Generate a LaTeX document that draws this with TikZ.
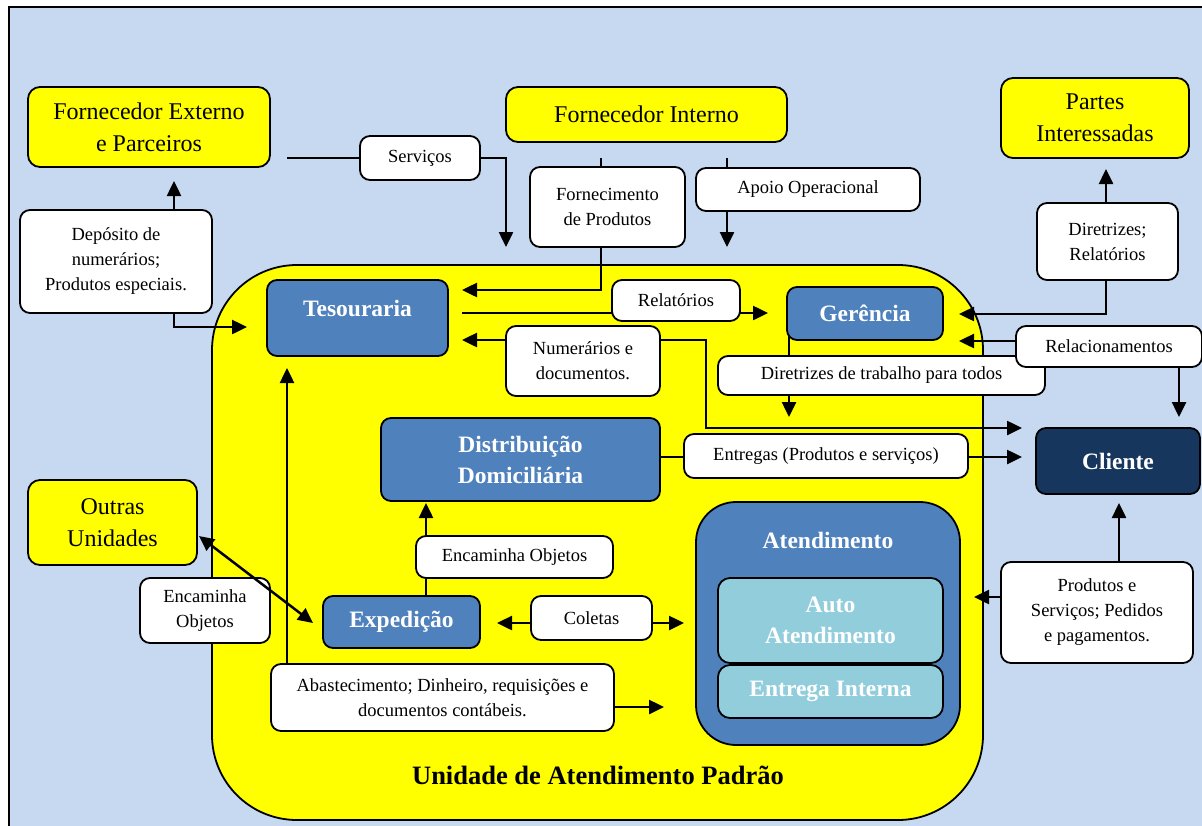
\documentclass[tikz,border=0pt]{standalone}
\usepackage{fontspec}
\setmainfont{Liberation Serif}
\usetikzlibrary{arrows.meta,calc}
\definecolor{bgblue}{HTML}{C6D9F1}
\definecolor{uyellow}{HTML}{FFFF00}
\definecolor{mblue}{HTML}{4F81BD}
\definecolor{lcyan}{HTML}{92CDDC}
\definecolor{navy}{HTML}{17365D}
\pgfdeclarelayer{back}
\pgfdeclarelayer{mid}
\pgfsetlayers{back,mid,main}
\begin{document}
\begin{tikzpicture}[x=1pt,y=-1pt,
  every node/.style={inner sep=0pt, outer sep=0pt},
  ybox/.style={draw, line width=1.8pt, fill=uyellow, rounded corners=12pt, align=center, font=\fontsize{24}{32}\selectfont},
  bbox/.style={draw, line width=1.8pt, fill=mblue, rounded corners=10pt, align=center, text=white, font=\bfseries\fontsize{23.5}{31}\selectfont},
  cbox/.style={draw, line width=1.8pt, fill=lcyan, rounded corners=12pt, align=center, text=white, font=\bfseries\fontsize{23.5}{31}\selectfont},
  lbl/.style={draw, line width=1.8pt, fill=white, rounded corners=10pt, align=center, font=\fontsize{18.5}{25}\selectfont},
  ln/.style={line width=2.5pt},
  arr/.style={line width=2.5pt, -{Triangle[length=15pt,width=14pt]}},
  dar/.style={line width=2.5pt, {Triangle[length=15pt,width=14pt]}-{Triangle[length=15pt,width=14pt]}},
]
\useasboundingbox (0,0) rectangle (1202,825);
\begin{pgfonlayer}{back}
  \draw[line width=2pt, fill=bgblue] (9,7) rectangle (1220,840);
  \node[draw, line width=1.8pt, fill=uyellow, rounded corners=85pt, minimum width=771pt, minimum height=555pt] (unid) at (597.5,542.5) {};
\end{pgfonlayer}

% yellow external boxes
\node[ybox, minimum width=242pt, minimum height=80pt] (fext) at (149,127) {Fornecedor Externo\\e Parceiros};
\node[ybox, minimum width=281pt, minimum height=55pt] (fint) at (646.5,114.5) {Fornecedor Interno};
\node[ybox, minimum width=188pt, minimum height=80pt] (partes) at (1095,118) {Partes\\Interessadas};
\node[ybox, minimum width=169pt, minimum height=85pt] (outras) at (112.5,522.5) {Outras\\Unidades};

% blue boxes
\node[bbox, minimum width=181pt, minimum height=76pt, text height=16pt, text depth=20pt] (tes) at (357.5,318) {Tesouraria};
\node[bbox, minimum width=156pt, minimum height=53pt] (ger) at (865,313.5) {Gerência};
\node[bbox, minimum width=279pt, minimum height=83pt] (dist) at (520.5,459.5) {Distribuição\\Domiciliária};
\node[bbox, minimum width=157pt, minimum height=52pt] (exp) at (401.5,622) {Expedição};
\node[bbox, rounded corners=40pt, minimum width=264pt, minimum height=243pt, text height=16pt, text depth=167pt] (aten) at (828,623.5) {Atendimento};
\node[cbox, minimum width=225pt, minimum height=85pt] (auto) at (830.5,620.5) {Auto\\Atendimento};
\node[cbox, minimum width=225pt, minimum height=53pt] (entr) at (830.5,691.5) {Entrega Interna};
\node[bbox, fill=navy, minimum width=164pt, minimum height=66pt] (cli) at (1118,461) {Cliente};

% labels
\node[lbl, minimum width=120pt, minimum height=44pt] (serv) at (420,158) {Serviços};
\node[lbl, minimum width=155pt, minimum height=80pt] (fprod) at (607.5,207) {Fornecimento\\de Produtos};
\node[lbl, minimum width=224pt, minimum height=43pt] (apoio) at (808,189.5) {Apoio Operacional};
\node[lbl, minimum width=192pt, minimum height=103pt] (dep) at (116,261.5) {Depósito de\\numerários;\\Produtos especiais.};
\node[lbl, minimum width=128pt, minimum height=41pt] (rel) at (676,300.5) {Relatórios};
\node[lbl, minimum width=154pt, minimum height=70pt] (numer) at (583,361) {Numerários e\\documentos.};
\node[lbl, minimum width=327pt, minimum height=39pt] (dtrab) at (881.5,375.5) {Diretrizes de trabalho para todos};
\node[lbl, minimum width=141pt, minimum height=77pt] (dirrel) at (1107.5,241.5) {Diretrizes;\\Relatórios};
\node[lbl, minimum width=186pt, minimum height=41pt] (relac) at (1109,346.5) {Relacionamentos};
\node[lbl, minimum width=284pt, minimum height=44pt] (entg) at (826,456) {Entregas (Produtos e serviços)};
\node[lbl, minimum width=197pt, minimum height=42pt] (enc1) at (514.5,557) {Encaminha Objetos};
\node[lbl, minimum width=130pt, minimum height=65pt] (enc2) at (205,610.5) {Encaminha\\Objetos};
\node[lbl, minimum width=121pt, minimum height=44pt] (colet) at (591.5,618) {Coletas};
\node[lbl, minimum width=343pt, minimum height=67pt] (abast) at (442.5,697.5) {Abastecimento; Dinheiro, requisições e\\documentos contábeis.};
\node[lbl, minimum width=192pt, minimum height=101pt] (prods) at (1097,612.5) {Produtos e\\Serviços; Pedidos\\e pagamentos.};

\node[font=\bfseries\fontsize{26.5}{30}\selectfont] (unidlbl) at (598,775) {Unidade de Atendimento Padrão};

% connectors
\begin{pgfonlayer}{mid}
  \coordinate (servL) at (287,158);
  \coordinate (servT) at (506,247);
  \draw[ln] (servL) -- (serv.center);
  \draw[arr] (serv.center) -| (servT);

  \coordinate (fiA) at (601,158);
  \coordinate (tesA) at (462,290);
  \draw[arr] (fiA) -- (fiA |- fprod.center) |- (tesA);

  \coordinate (fiB) at (727,158);
  \coordinate (apoioT) at (727,247);
  \draw[arr] (fiB) -- (apoioT);

  \coordinate (fextT) at (174,181);
  \coordinate (tesL) at (247,327);
  \draw[arr] (dep.center -| fextT) -- (fextT);
  \draw[arr] (dep.center -| fextT) |- (tesL);

  \coordinate (relS) at (462,313);
  \coordinate (relT) at (768,313);
  \draw[arr] (relS) -- (relT);

  \coordinate (numA) at (462,340);
  \coordinate (numB) at (706,340);
  \coordinate (cliA) at (1022,428);
  \draw[arr] (numer.center |- numA) -- (numA);
  \draw[arr] (numer.center |- numB) -- (numB) |- (cliA);

  \coordinate (dtA) at (789,417);
  \draw[arr] (ger.center -| dtA) -- (dtA);

  \coordinate (parT) at (1106,169);
  \coordinate (gerR1) at (959,314);
  \draw[arr] (dirrel.center -| parT) -- (parT);
  \draw[arr] (dirrel.center -| parT) |- (gerR1);

  \coordinate (gerR2) at (959,341);
  \coordinate (cliT) at (1179,417);
  \draw[arr] (relac.center |- gerR2) -- (gerR2);
  \draw[arr] (relac.center -| cliT) -- (cliT);

  \coordinate (cliB) at (1022,457);
  \draw[arr] (dist.center |- cliB) -- (cliB);

  \coordinate (distB) at (426,503);
  \draw[arr] (exp.center -| distB) -- (distB);

  \coordinate (colL) at (497,623);
  \coordinate (colR) at (684,623);
  \draw[arr] (colet.center |- colL) -- (colL);
  \draw[arr] (colet.center |- colR) -- (colR);

  \coordinate (tesB) at (287,368);
  \coordinate (abR) at (664,707);
  \draw[arr] (abast.center -| tesB) -- (tesB);
  \draw[arr] (abast.center |- abR) -- (abR);

  \coordinate (atR) at (974,597);
  \coordinate (cliC) at (1119,503);
  \draw[arr] (prods.center |- atR) -- (atR);
  \draw[arr] (prods.center -| cliC) -- (cliC);
\end{pgfonlayer}

\coordinate (ouA) at (199,536);
\coordinate (exA) at (313,623);
\draw[dar] (ouA) -- (exA);
\end{tikzpicture}
\end{document}
